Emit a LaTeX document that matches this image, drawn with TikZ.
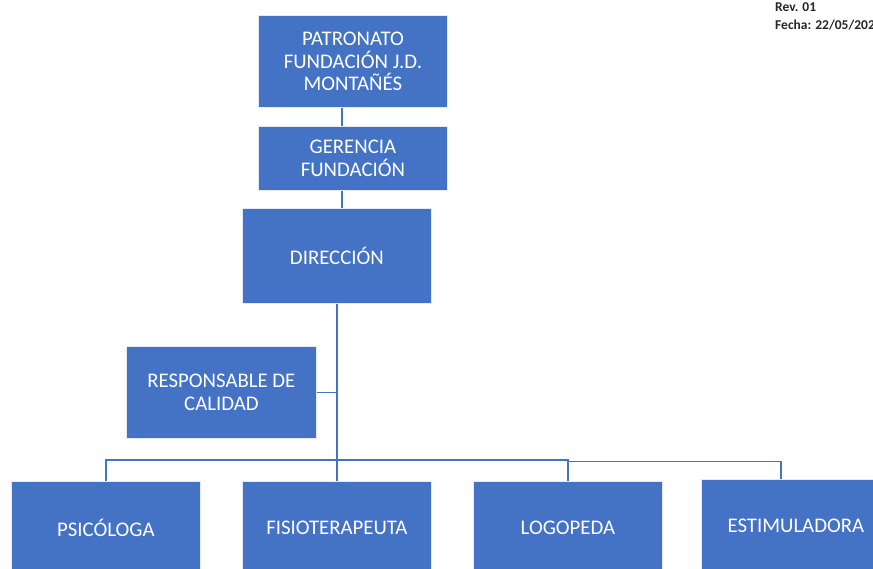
\documentclass[tikz,border=0pt]{standalone}
\usepackage{fontspec}
\setmainfont{Carlito}
\definecolor{ob}{HTML}{4472C4}
\begin{document}
\begin{tikzpicture}[x=1pt,y=-1pt,
  box/.style={fill=ob, draw=white!85!ob, line width=0.8pt, text=white, align=center,
    font=\fontsize{20.8}{22.5}\selectfont, inner sep=0pt, anchor=north west,
    minimum width=189pt, minimum height=92pt},
  conn/.style={draw=ob, line width=1.6pt},
  thickconn/.style={draw=ob, line width=2.6pt}]
\useasboundingbox (0,0) rectangle (873,568);
\clip (0,0) rectangle (873,568);
\node[box] (pat) at (258,15) {PATRONATO\\FUNDACIÓN J.D.\\MONTAÑÉS};
\node[box, minimum height=64pt] (ger) at (258,126) {GERENCIA\\FUNDACIÓN};
\node[box, minimum height=95pt] (dir) at (242,208) {DIRECCIÓN};
\node[box, minimum width=190pt] (resp) at (126,346) {RESPONSABLE DE\\CALIDAD};
\node[box] (psi) at (11,481) {PSICÓLOGA};
\node[box] (fis) at (242,481) {FISIOTERAPEUTA};
\node[box] (logo) at (473,481) {LOGOPEDA};
\node[box] (est) at (701,479) {ESTIMULADORA};
\node[anchor=north west, inner sep=0pt, align=left, text=black!85,
  font=\bfseries\fontsize{13.5}{18}\selectfont] (rev) at (775,2) {Rev. 01\\Fecha: 22/05/2021};
\draw[thickconn] ([xshift=-11pt]pat.south) -- ([xshift=-11pt]ger.north);
\draw[thickconn] ([xshift=-11pt]ger.south) -- ([xshift=-11pt]ger.south |- dir.north);
\draw[conn] (dir.south) -- (fis.north);
\draw[conn] (resp.east) -- (resp.east -| dir.south);
\draw[conn] (psi.north) -- (psi.north |- 0,460) -- (logo.north |- 0,460) -- (logo.north);
\draw[conn] (logo.north |- 0,461.5) -- ([xshift=-15pt]est.north |- 0,461.5) -- ([xshift=-15pt]est.north);
\end{tikzpicture}
\end{document}
